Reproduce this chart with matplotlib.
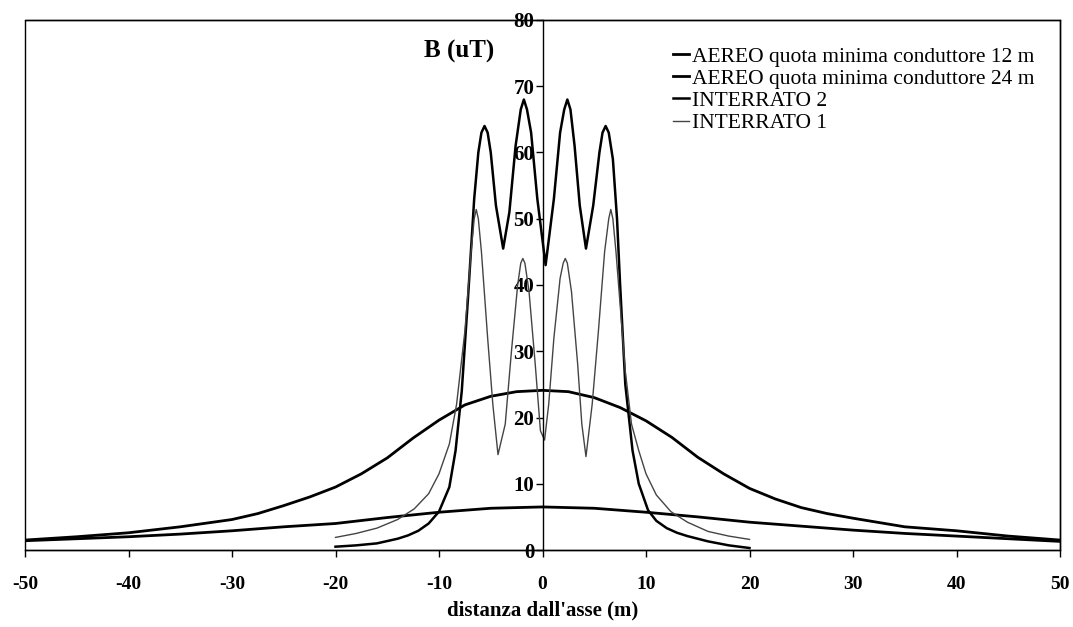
# plot.py - campo magnetico B vs distanza dall'asse (ricostruzione)
import numpy as np
import matplotlib; matplotlib.use('Agg')
import matplotlib.pyplot as plt
from matplotlib.patches import Rectangle

plt.rcParams['font.family'] = ['Liberation Serif', 'DejaVu Serif']
plt.rcParams['axes.unicode_minus'] = False

# --- dati ---
x_aereo12 = [-50, -45, -40, -35, -30, -27.5, -25, -22.5, -20, -17.5, -15, -12.5, -10, -7.5, -5, -2.5, 0,
             2.5, 5, 7.5, 10, 12.5, 15, 17.5, 20, 22.5, 25, 27.5, 30, 35, 40, 45, 50]
b_aereo12 = [1.5, 2.0, 2.6, 3.5, 4.6, 5.5, 6.7, 8.0, 9.5, 11.5, 13.9, 16.9, 19.6, 21.9, 23.2, 23.9, 24.1,
             23.9, 23.0, 21.5, 19.5, 17.0, 14.0, 11.5, 9.3, 7.7, 6.4, 5.5, 4.8, 3.5, 2.9, 2.1, 1.5]

x_aereo24 = [-50, -45, -40, -35, -30, -25, -20, -15, -10, -5, 0, 5, 10, 15, 20, 25, 30, 35, 40, 45, 50]
b_aereo24 = [1.4, 1.7, 2.0, 2.4, 2.9, 3.5, 4.0, 4.9, 5.7, 6.3, 6.5, 6.3, 5.7, 5.0, 4.2, 3.6, 3.0, 2.5, 2.1, 1.7, 1.3]

x_int2 = [-20, -18, -16, -14, -13, -12, -11, -10, -9, -8.4, -7.8, -7.2, -6.6, -6.2, -5.9, -5.6, -5.3, -5.0, -4.5,
          -3.8, -3.2, -2.6, -2.1, -1.8, -1.5, -1.1, -0.5, 0.3, 1.1, 1.7, 2.1, 2.4, 2.7, 3.1, 3.6, 4.2,
          4.9, 5.5, 5.8, 6.1, 6.4, 6.8, 7.2, 7.5, 8.0, 8.7, 9.3, 10.2, 11, 12, 13, 14, 16, 18, 20]
b_int2 = [0.5, 0.7, 1.0, 1.7, 2.2, 2.9, 4.0, 5.8, 9.5, 15, 24, 38, 53, 60, 63, 64, 63, 60, 52,
          45.5, 51, 61, 66.5, 68, 66.5, 63, 53, 43, 53, 63, 66.5, 68, 66.5, 61, 52, 45.5,
          52, 60, 63, 64, 63, 59, 50, 40, 25, 15, 10, 6, 4.4, 3.3, 2.6, 2.1, 1.3, 0.7, 0.3]

x_int1 = [-20, -18, -16, -14, -12.4, -11, -10, -9, -8.3, -7.5, -6.9, -6.6, -6.4, -6.2, -5.9, -5.3, -4.8, -4.3,
          -3.6, -3.0, -2.4, -2.1, -1.9, -1.7, -1.3, -0.7, -0.2, 0.2, 0.6, 1.1, 1.7, 2.0, 2.2, 2.4, 2.8,
          3.4, 3.8, 4.2, 4.8, 5.4, 6.0, 6.4, 6.6, 6.8, 7.1, 7.6, 8.0, 8.6, 9.3, 10, 11, 12.4, 14, 16, 18, 20]
b_int1 = [1.9, 2.5, 3.3, 4.6, 6.2, 8.5, 11.5, 16, 22, 33, 45, 50, 51.4, 50, 45, 32, 22, 14.4,
          19, 30, 40, 43.3, 44, 43.3, 39, 28, 18, 16.6, 22, 32, 41, 43.3, 44, 43.3, 39,
          28, 19, 14.1, 22, 33, 45, 50, 51.4, 50, 45, 35, 27, 19, 15, 11.5, 8.3, 5.8, 4.2, 2.8, 2.1, 1.6]

labels = ['AEREO quota minima conduttore 12 m', 'AEREO quota minima conduttore 24 m',
          'INTERRATO 2', 'INTERRATO 1']
x_ticks = list(range(-50, 51, 10))
y_ticks = list(range(0, 81, 10))

fig = plt.figure(figsize=(10.73, 6.27), dpi=100, facecolor='white')
ax = fig.add_axes([25/1073, 1-550/627, 1035/1073, 530/627])

ax.plot(x_aereo12, b_aereo12, color='black', lw=2.0, label=labels[0])
ax.plot(x_aereo24, b_aereo24, color='black', lw=2.0, label=labels[1])
ax.plot(x_int2, b_int2, color='black', lw=1.8, label=labels[2])
ax.plot(x_int1, b_int1, color='#444444', lw=1.0, label=labels[3])

ax.set_xlim(-50, 50); ax.set_ylim(0, 80)
ax.spines['left'].set_position(('data', 0))
for s in ax.spines.values(): s.set_linewidth(1.0)
ax.add_patch(Rectangle((0, 0), 1, 1, transform=ax.transAxes, fill=False, lw=1.0, color='black', clip_on=False))

ax.set_xticks(x_ticks); ax.set_yticks(y_ticks)
ax.tick_params(axis='x', direction='out', length=5, width=1, pad=14, labelsize=14)
ax.tick_params(axis='y', direction='out', length=5, width=1, pad=1, labelsize=15)
for t in ax.get_xticklabels() + ax.get_yticklabels(): t.set_fontweight('bold')

ax.set_xlabel("distanza dall'asse (m)", fontsize=15, fontweight='bold', labelpad=5)
ax.text(-8.1, 75.2, 'B (uT)', fontsize=18, fontweight='bold', ha='center', va='center')

ax.legend(loc='upper left', bbox_to_anchor=(0.626, 0.95), frameon=False, fontsize=15.5,
          handlelength=0.75, handletextpad=0.15, labelspacing=0.1, borderpad=0, borderaxespad=0)

plt.savefig('out.png', dpi=100, facecolor='white')
plt.close()
